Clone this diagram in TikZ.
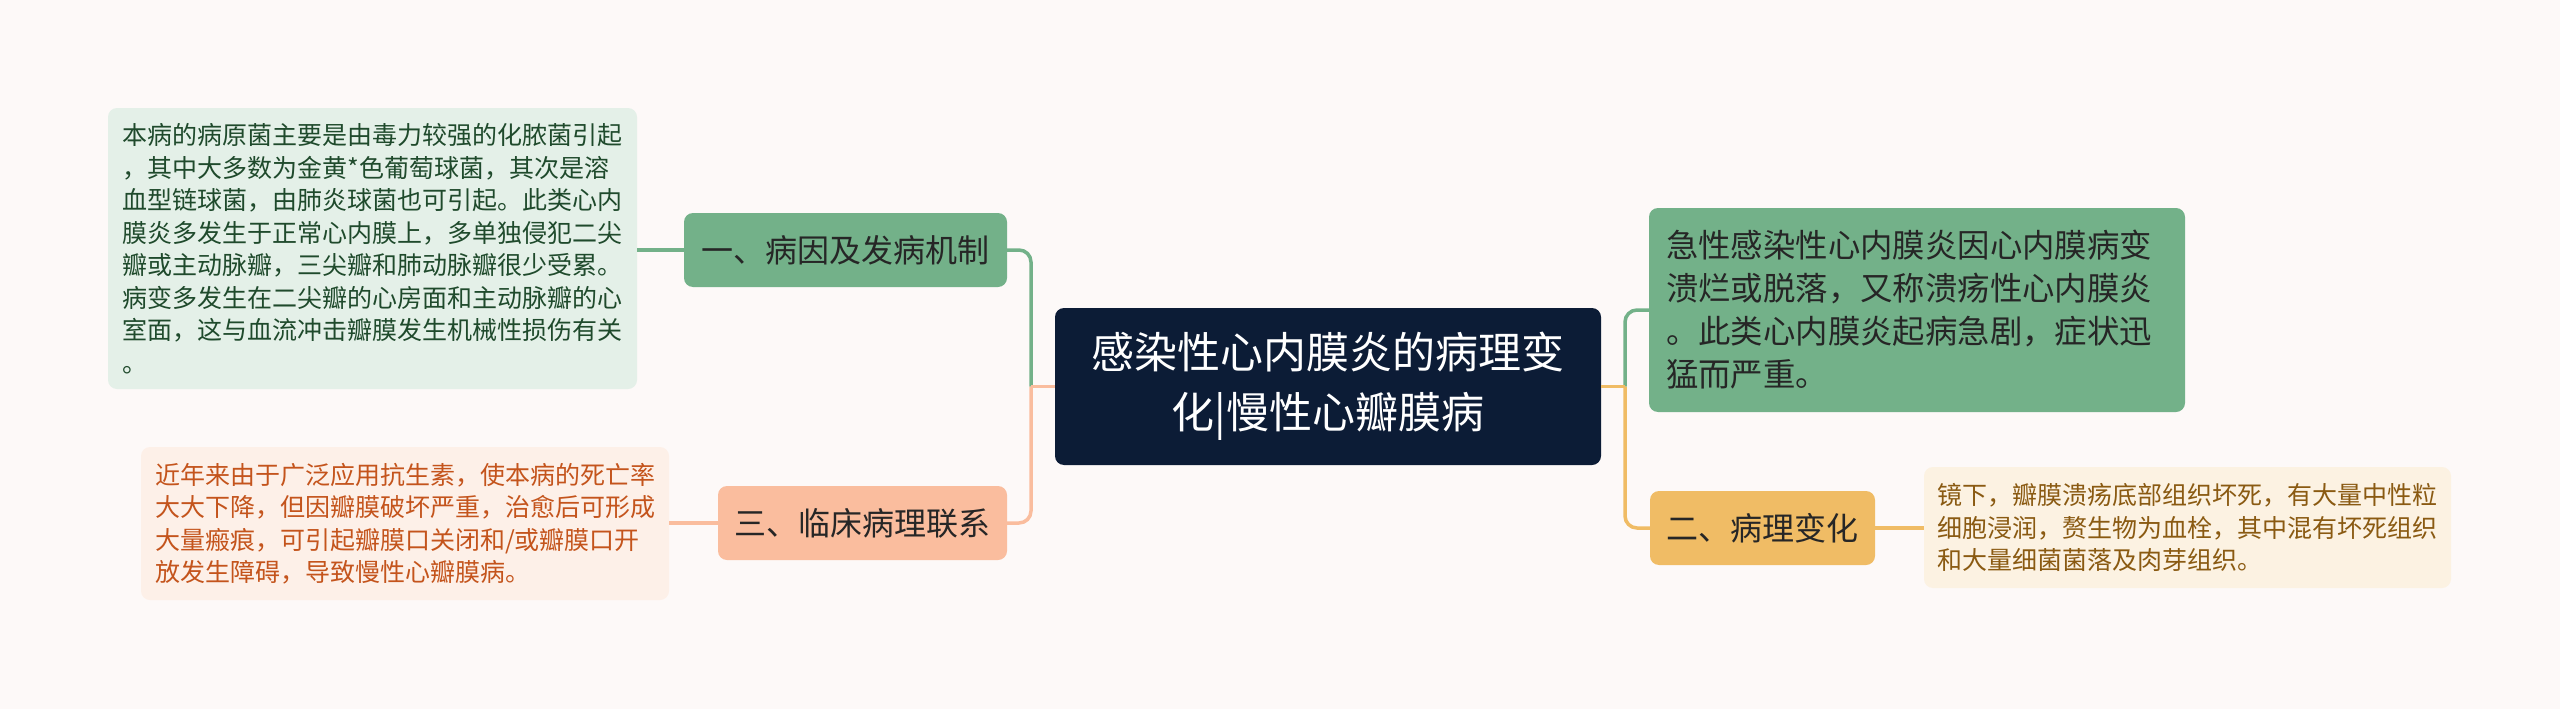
\documentclass[tikz,border=0pt]{standalone}
\usepackage{fontspec}
\setmainfont{Noto Sans CJK SC}
\definecolor{bgc}{HTML}{FDF9F8}
\definecolor{rootc}{HTML}{0C1C36}
\definecolor{grn}{HTML}{73B189}
\definecolor{grnl}{HTML}{E4F0E8}
\definecolor{grnt}{HTML}{1F4A2C}
\definecolor{sal}{HTML}{FABD9E}
\definecolor{sall}{HTML}{FDF0E8}
\definecolor{salt}{HTML}{C4541C}
\definecolor{org}{HTML}{F0BC65}
\definecolor{orgl}{HTML}{FCF2E2}
\definecolor{orgt}{HTML}{8A5A12}
\begin{document}
\begin{tikzpicture}[x=1pt,y=-1pt,
  box/.style={rounded corners=9pt, inner sep=0pt, anchor=center},
  topic/.style={box, text=black!85, font=\fontsize{32}{43}\selectfont, minimum height=74pt},
  leaf/.style={box, align=left, font=\fontsize{25}{32.5}\selectfont},
  link/.style={line width=3.5pt, rounded corners=12pt}]
  \useasboundingbox[fill=bgc] (0,0) rectangle (2560,709);
  \node[box, fill=rootc, text=white, align=center, font=\fontsize{43}{60}\selectfont,
    minimum width=546pt, minimum height=157pt] (root) at (1328,386.5)
    {感染性心内膜炎的病理变\\化|慢性心瓣膜病};
  % left side
  \node[topic, fill=grn, minimum width=323pt] (cause) at (845.5,250) {一、病因及发病机制};
  \node[topic, fill=sal, minimum width=289pt] (clinic) at (862.5,523) {三、临床病理联系};
  \node[leaf, fill=grnl, text=grnt, minimum width=529pt, minimum height=281pt] (causetxt) at (372.5,248.5)
    {本病的病原菌主要是由毒力较强的化脓菌引起\\，其中大多数为金黄*色葡萄球菌，其次是溶\\血型链球菌，由肺炎球菌也可引起。此类心内\\膜炎多发生于正常心内膜上，多单独侵犯二尖\\瓣或主动脉瓣，三尖瓣和肺动脉瓣很少受累。\\病变多发生在二尖瓣的心房面和主动脉瓣的心\\室面，这与血流冲击瓣膜发生机械性损伤有关\\。};
  \node[leaf, fill=sall, text=salt, minimum width=528pt, minimum height=153pt] (clinictxt) at (405,523.5)
    {近年来由于广泛应用抗生素，使本病的死亡率\\大大下降，但因瓣膜破坏严重，治愈后可形成\\大量瘢痕，可引起瓣膜口关闭和/或瓣膜口开\\放发生障碍，导致慢性心瓣膜病。};
  % right side
  \node[topic, fill=grn, align=left, font=\fontsize{32.4}{43}\selectfont,
    inner xsep=17pt, text width=502pt, minimum height=204pt] (acute) at (1917,310)
    {急性感染性心内膜炎因心内膜病变\\溃烂或脱落，又称溃疡性心内膜炎\\。此类心内膜炎起病急剧，症状迅\\猛而严重。};
  \node[topic, fill=org, minimum width=225pt] (change) at (1762.5,528) {二、病理变化};
  \node[leaf, fill=orgl, text=orgt, minimum width=527pt, minimum height=121pt] (changetxt) at (2187.5,527.5)
    {镜下，瓣膜溃疡底部组织坏死，有大量中性粒\\细胞浸润，赘生物为血栓，其中混有坏死组织\\和大量细菌菌落及肉芽组织。};
  % connectors
  \coordinate (lj) at (1031,386.5);
  \coordinate (rj) at (1625,386.5);
  \draw[link, grn] (lj) |- (cause.east);
  \draw[link, sal] (lj) |- (clinic.east);
  \draw[link, sal] (root.west) -- (lj);
  \draw[link, grn] (rj) |- (acute.west);
  \draw[link, org] (rj) |- (change.west);
  \draw[link, org] (root.east) -- (rj);
  \draw[link, grn] (cause.west) -- (cause.west -| causetxt.east);
  \draw[link, sal] (clinic.west) -- (clinic.west -| clinictxt.east);
  \draw[link, org] (change.east) -- (change.east -| changetxt.west);
\end{tikzpicture}
\end{document}
